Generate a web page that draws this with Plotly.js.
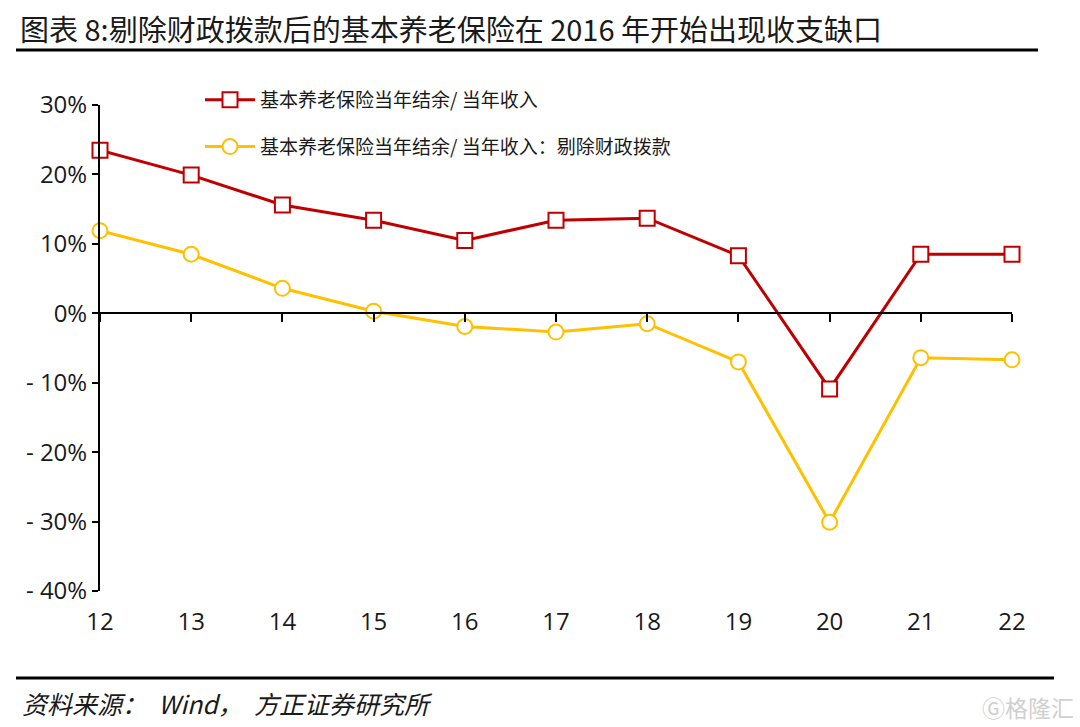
<!DOCTYPE html>
<html>
<head>
<meta charset="utf-8">
<script src="https://cdn.plot.ly/plotly-3.0.1.min.js"></script>
<style>
  html, body { margin: 0; padding: 0; background: #fff; }
  #chart { width: 1080px; height: 727px; }
</style>
</head>
<body>
<div id="chart"></div>
<script>
// Years (20xx), shown as two-digit labels
const years = [12, 13, 14, 15, 16, 17, 18, 19, 20, 21, 22];
const yearLabels = ['12', '13', '14', '15', '16', '17', '18', '19', '20', '21', '22'];

// Surplus / income, %
const surplusRatio = [23.5, 19.9, 15.6, 13.4, 10.5, 13.4, 13.7, 8.3, -10.9, 8.5, 8.5];
// Surplus / income excluding fiscal subsidies, %
const surplusExSubsidy = [11.9, 8.5, 3.6, 0.3, -1.9, -2.7, -1.5, -7.0, -30.1, -6.4, -6.7];

const yTickVals = [30, 20, 10, 0, -10, -20, -30, -40];
const yTickText = ['30%', '20%', '10%', '0%', '- 10%', '- 20%', '- 30%', '- 40%'];

const RED = '#C00000';
const YELLOW = '#FFC000';
const TEXT = '#1a1a1a';
const CJK = '"Noto Sans CJK SC", "Noto Sans", sans-serif';
const NUM = '"Open Sans", "Noto Sans", sans-serif';

// plot area in pixels: left 100, right 1012, top 105, bottom 591
const L = 100, R = 1012, T = 105, B = 591;
const px = (x) => (x - L) / (R - L);
const py = (y) => (B - y) / (B - T);

const traces = [
    {
        name: '基本养老保险当年结余/ 当年收入',
        x: years,
        y: surplusRatio,
        xaxis: 'x2',
        type: 'scatter',
        mode: 'lines+markers',
        legendgroup: 'a',
        line: { color: RED, width: 3 },
        marker: { symbol: 'square', size: 15, color: '#fff', line: { color: RED, width: 2 } },
        cliponaxis: false
    },
    {
        name: '基本养老保险当年结余/ 当年收入：剔除财政拨款',
        x: years,
        y: surplusExSubsidy,
        type: 'scatter',
        mode: 'lines+markers',
        legendgroup: 'b',
        line: { color: YELLOW, width: 3 },
        marker: { symbol: 'circle', size: 15, color: '#fff', line: { color: YELLOW, width: 2 } },
        cliponaxis: false
    }
];

const layout = {
    width: 1080,
    height: 727,
    margin: { l: L, r: 1080 - R, t: T, b: 727 - B },
    paper_bgcolor: '#fff',
    plot_bgcolor: '#fff',
    showlegend: true,
    legend: {
        x: px(200),
        y: py(81),
        xanchor: 'left',
        yanchor: 'top',
        bgcolor: 'rgba(0,0,0,0)',
        traceorder: 'grouped',
        tracegroupgap: 19,
        itemwidth: 50,
        font: { family: CJK, size: 19, color: TEXT }
    },
    xaxis: {
        range: [12, 22],
        tickvals: years,
        ticktext: yearLabels,
        showline: false,
        showgrid: false,
        zeroline: false,
        ticks: '',
        ticklabelstandoff: 14,
        tickfont: { family: NUM, size: 24, color: TEXT }
    },
    xaxis2: {
        range: [12, 22],
        overlaying: 'x',
        anchor: 'free',
        position: 40 / 70,
        tickvals: years,
        showticklabels: false,
        showline: true,
        linecolor: '#000',
        linewidth: 2,
        ticks: 'outside',
        ticklen: 8,
        tickwidth: 2,
        tickcolor: '#000',
        showgrid: false,
        zeroline: false
    },
    yaxis: {
        range: [-40, 30],
        tickvals: yTickVals,
        ticktext: yTickText,
        showline: true,
        linecolor: '#000',
        linewidth: 2,
        ticks: 'outside',
        ticklen: 6,
        tickwidth: 2,
        tickcolor: '#000',
        showgrid: false,
        zeroline: false,
        tickfont: { family: NUM, size: 24, color: TEXT }
    },
    shapes: [
        { type: 'line', xref: 'paper', yref: 'paper', x0: px(16), x1: px(1038), y0: py(50), y1: py(50),
          line: { color: '#000', width: 3 } },
        { type: 'line', xref: 'paper', yref: 'paper', x0: px(16), x1: px(1054), y0: py(678), y1: py(678),
          line: { color: '#000', width: 3 } }
    ],
    annotations: [
        {
            text: '图表 8:剔除财政拨款后的基本养老保险在 2016 年开始出现收支缺口',
            xref: 'paper', yref: 'paper', x: px(18), y: py(28),
            xanchor: 'left', yanchor: 'middle', showarrow: false,
            font: { family: CJK, size: 29, color: TEXT }
        },
        {
            text: '资料来源：  Wind，  方正证券研究所',
            xref: 'paper', yref: 'paper', x: px(20), y: py(703),
            xanchor: 'left', yanchor: 'middle', showarrow: false,
            font: { family: CJK, size: 25, color: TEXT, style: 'italic' }
        },
        {
            text: 'Ⓖ格隆汇',
            xref: 'paper', yref: 'paper', x: px(1076), y: py(707),
            xanchor: 'right', yanchor: 'middle', showarrow: false,
            font: { family: CJK, size: 23, color: '#d0d0d0' }
        }
    ]
};

Plotly.newPlot('chart', traces, layout, { displayModeBar: false, staticPlot: true });
</script>
</body>
</html>
